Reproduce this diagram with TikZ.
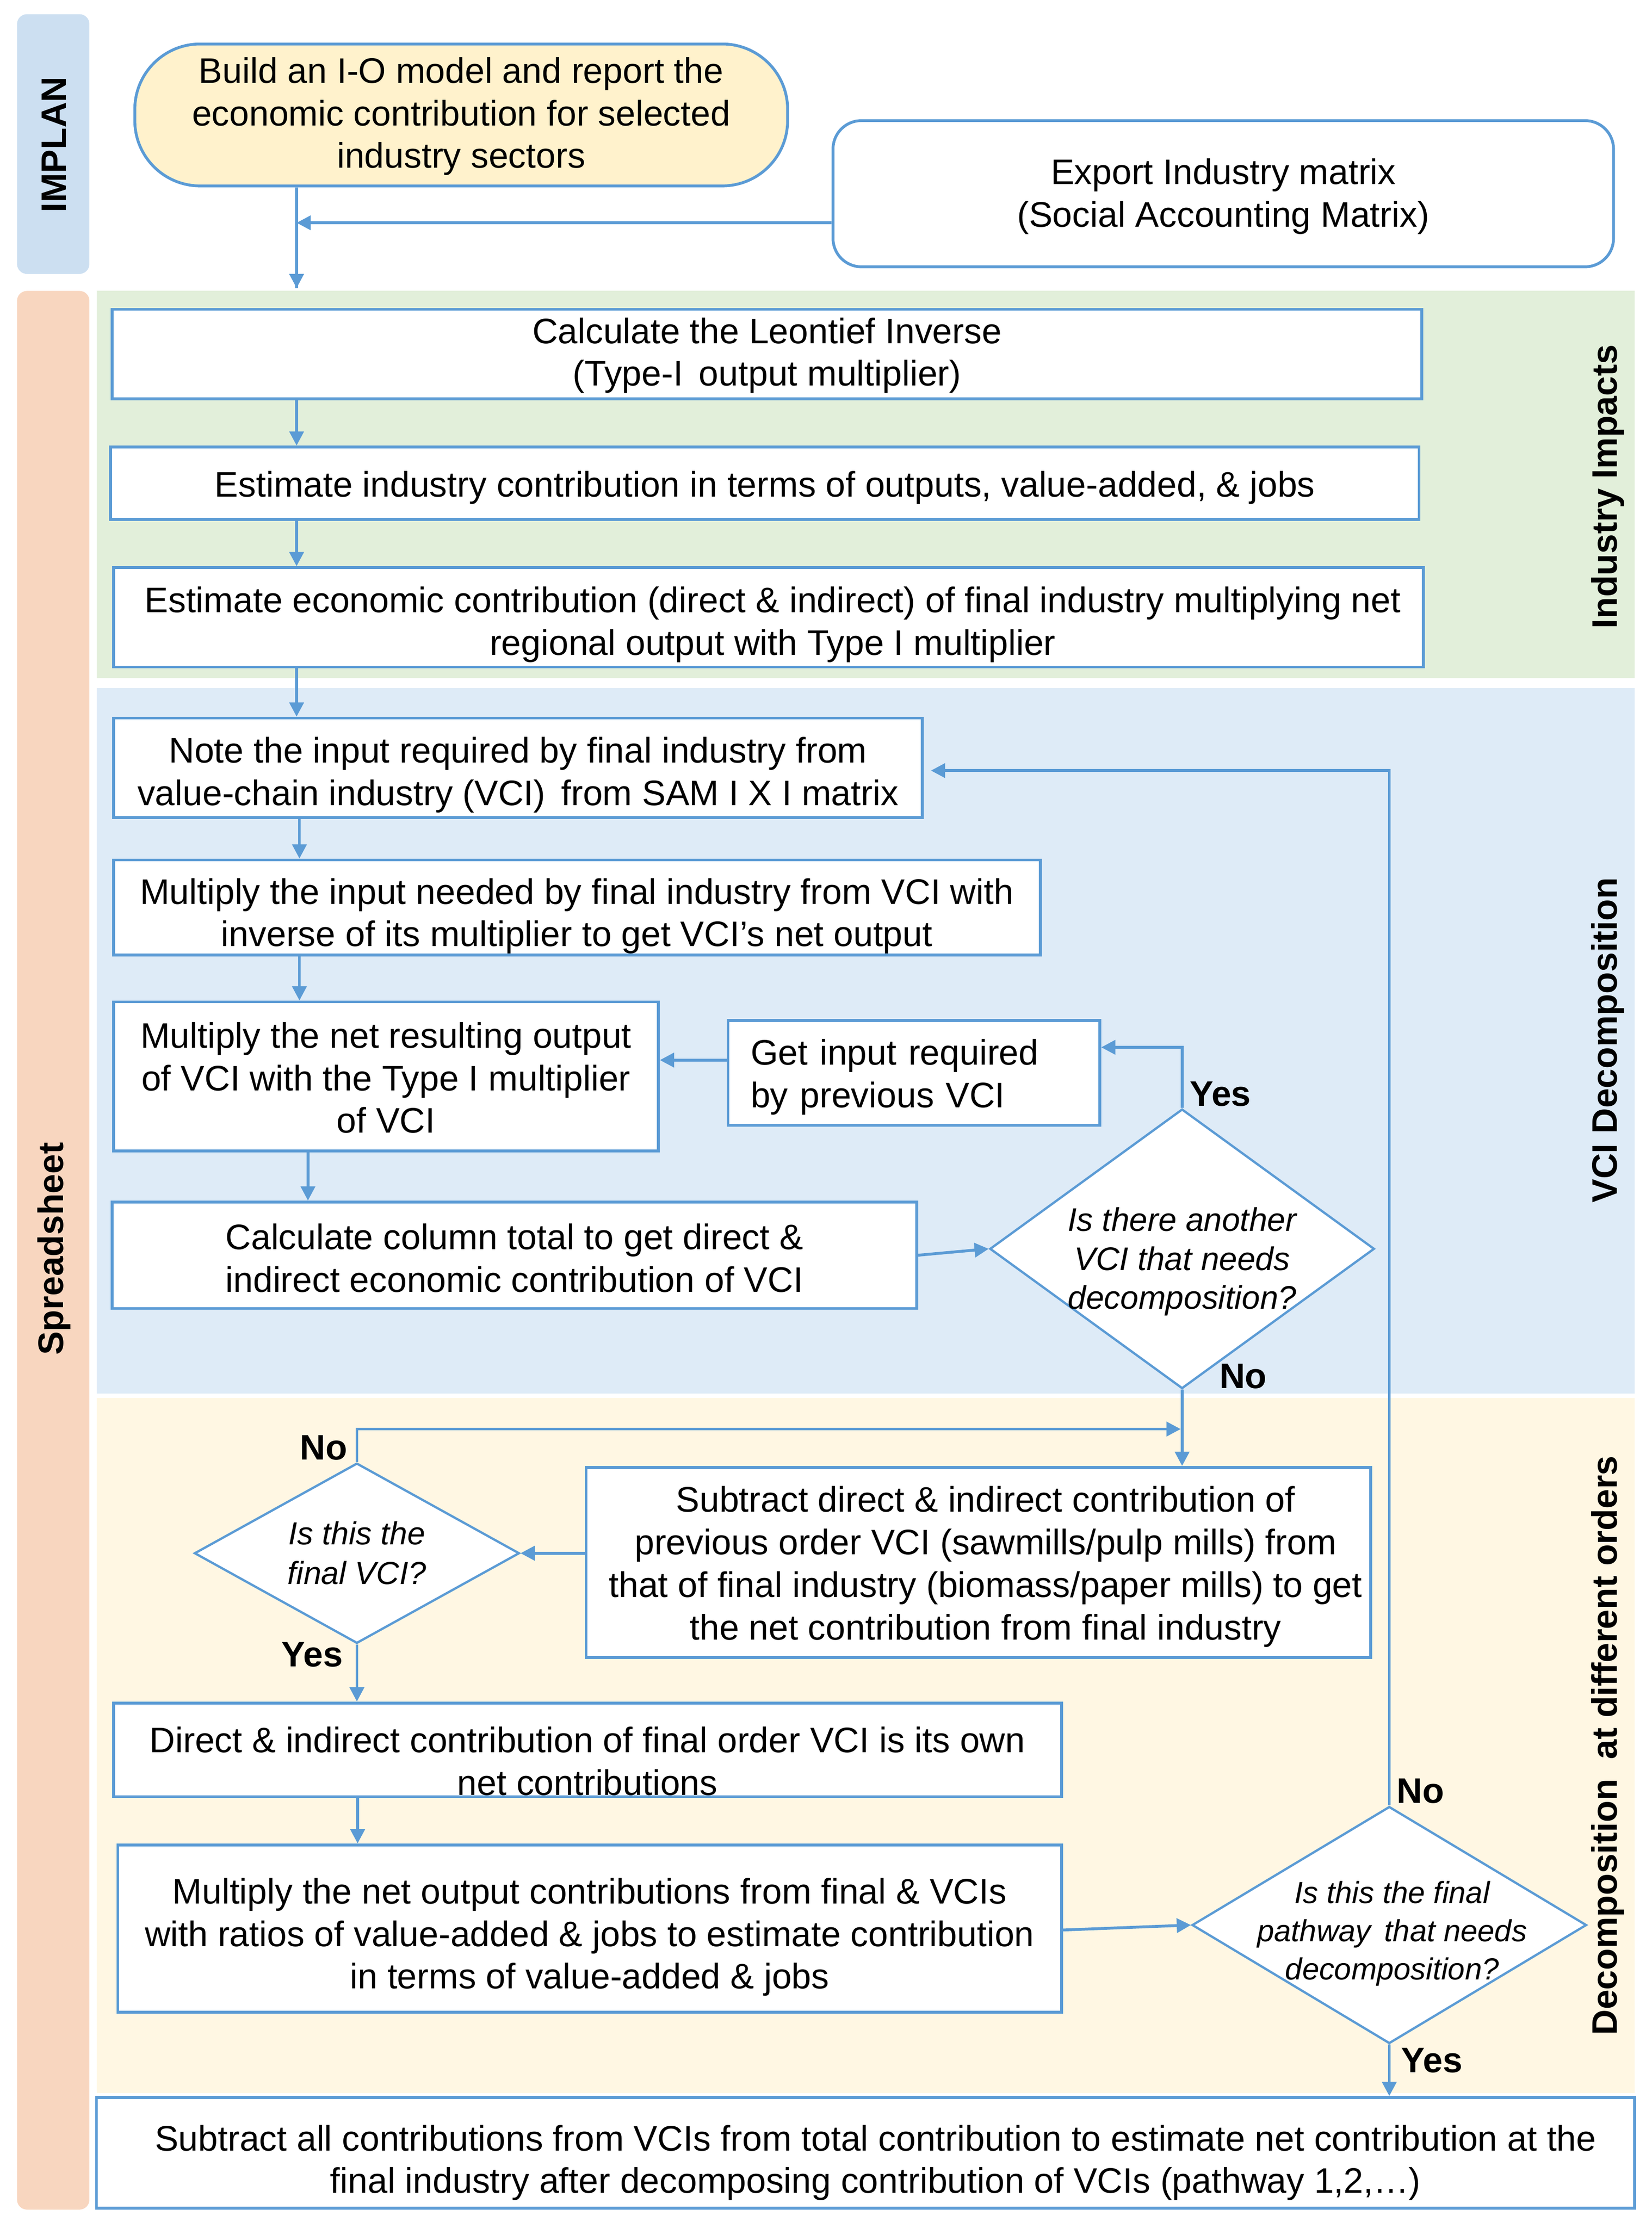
\documentclass[tikz,border=0pt]{standalone}
\usepackage{fontspec}
\setmainfont{Liberation Sans}
\usetikzlibrary{shapes.geometric,arrows.meta,calc}
\definecolor{lblue}{HTML}{5B9BD5}
\definecolor{implanbg}{HTML}{CCDFF1}
\definecolor{peach}{HTML}{F8D6BF}
\definecolor{greenbg}{HTML}{E2EFDA}
\definecolor{bluebg}{HTML}{DEEBF7}
\definecolor{beigebg}{HTML}{FFF7E3}
\definecolor{startbg}{HTML}{FFF2CC}
\begin{document}
\begin{tikzpicture}[x=1pt,y=-1pt,
  txt/.style={font=\fontsize{25}{30}\selectfont},
  boxn/.style={draw=lblue,line width=2pt,fill=white,inner sep=0pt},
  lab/.style={txt,align=center,inner sep=0pt},
  dia/.style={diamond,draw=lblue,line width=1.6pt,fill=white,inner sep=0pt},
  diatxt/.style={align=center,inner sep=0pt},
  yn/.style={font=\fontsize{25}{28}\selectfont\bfseries,inner sep=0pt},
  band/.style={font=\fontsize{25}{28}\selectfont\bfseries,rotate=90,inner sep=0pt},
  arr/.style={draw=lblue,line width=2pt,-{Triangle[length=10pt,width=10pt]}},
  ln/.style={draw=lblue,line width=2pt}]
\useasboundingbox (0,0) rectangle (1164,1570);
% bands
\fill[implanbg,rounded corners=7pt] (12,10) rectangle (63,193);
\fill[peach,rounded corners=7pt] (12,205) rectangle (63,1557);
\fill[greenbg] (68,205) rectangle (1152,478);
\fill[bluebg] (68,485) rectangle (1152,982);
\fill[beigebg] (68,985) rectangle (1152,1475);
\node[band] (limplan) at (38,102) {IMPLAN};
\node[band] (lspread) at (38,880) {Spreadsheet};
\node[band] (lind) at (1133,343) {Industry Impacts};
\node[band] (lvci) at (1133,733) {VCI Decomposition};
\node[band] (ldec) at (1133,1230) {Decomposition \ at different orders};
% nodes
\node[boxn,fill=startbg,rounded corners=46pt,minimum width=460pt,minimum height=100pt,
  label={[lab,yshift=-1pt]center:{Build an I-O model and report the\\economic contribution for selected\\industry sectors}}] (start) at (325,81) {};
\node[boxn,rounded corners=20pt,minimum width=550pt,minimum height=103pt,
  label={[lab,yshift=-2pt]center:{Export Industry matrix\\(Social Accounting Matrix)}}] (export) at (862,136.5) {};
\node[boxn,minimum width=923pt,minimum height=63pt,
  label={[lab,yshift=-1pt]center:{Calculate the Leontief Inverse\\(Type-I\, output multiplier)}}] (leon) at (540.5,249.5) {};
\node[boxn,minimum width=922pt,minimum height=51pt,
  label={[lab,yshift=-3pt]center:{Estimate industry contribution in terms of outputs, value-added, \& jobs}}] (estind) at (539,340.5) {};
\node[boxn,minimum width=923pt,minimum height=70pt,
  label={[lab,yshift=-5pt,xshift=3pt]center:{Estimate economic contribution (direct \& indirect) of final industry multiplying net\\regional output with Type I multiplier}}] (esteco) at (541.5,435) {};
\node[boxn,minimum width=570pt,minimum height=70pt,
  label={[lab,yshift=-5pt]center:{Note the input required by final industry from\\value-chain industry (VCI)\, from SAM I X I matrix}}] (note) at (365,541) {};
\node[boxn,minimum width=653pt,minimum height=67pt,
  label={[lab,yshift=-6pt]center:{Multiply the input needed by final industry from VCI with\\inverse of its multiplier to get VCI’s net output}}] (multin) at (406.5,639.5) {};
\node[boxn,minimum width=384pt,minimum height=105pt,
  label={[lab,yshift=-1pt]center:{Multiply the net resulting output\\of VCI with the Type I multiplier\\of VCI}}] (multnet) at (272,758.5) {};
\node[boxn,minimum width=567pt,minimum height=75pt,
  label={[lab,yshift=-2pt]center:{Calculate column total to get direct \&\\indirect economic contribution of VCI}}] (calccol) at (362.5,884.5) {};
\node[boxn,minimum width=262pt,minimum height=74pt,
  label={[lab,align=left,text width=230pt,yshift=-3pt]center:{Get input required\\by previous VCI}}] (getin) at (644,756) {};
\node[dia,minimum width=271pt,minimum height=197pt] (d1) at (833,880) {};
\node[diatxt,font=\fontsize{23}{27.5}\selectfont\itshape] (d1t) at ([yshift=-9pt]d1.center) {Is there another\\VCI that needs\\decomposition?};
\node[boxn,minimum width=553pt,minimum height=134pt,
  label={[lab,yshift=-3pt,xshift=5pt]center:{Subtract direct \& indirect contribution of\\previous order VCI (sawmills/pulp mills) from\\that of final industry (biomass/paper mills) to get\\the net contribution from final industry}}] (sub) at (689.5,1101) {};
\node[dia,minimum width=229pt,minimum height=127pt] (d2) at (251.5,1094.5) {};
\node[diatxt,font=\fontsize{22.5}{28}\selectfont\itshape] (d2t) at (d2.center) {Is this the\\final VCI?};
\node[boxn,minimum width=668pt,minimum height=66pt,
  label={[lab,yshift=-8pt]center:{Direct \& indirect contribution of final order VCI is its own\\net contributions}}] (direct) at (414,1233) {};
\node[boxn,minimum width=665pt,minimum height=118pt,
  label={[lab,yshift=-6pt]center:{Multiply the net output contributions from final \& VCIs\\with ratios of value-added \& jobs to estimate contribution\\in terms of value-added \& jobs}}] (multout) at (415.5,1359) {};
\node[dia,minimum width=278pt,minimum height=167pt] (d3) at (979,1356.5) {};
\node[diatxt,font=\fontsize{21.5}{27}\selectfont\itshape] (d3t) at ([xshift=2pt,yshift=-6pt]d3.center) {Is this the final\\pathway\, that needs\\decomposition?};
\node[boxn,minimum width=1084pt,minimum height=78pt,
  label={[lab,yshift=-7pt,xshift=7pt]center:{Subtract all contributions from VCIs from total contribution to estimate net contribution at the\\final industry after decomposing contribution of VCIs (pathway 1,2,…)}}] (bottom) at (610,1517) {};
% labels
\node[yn] (y1) at (860,771) {Yes};
\node[yn] (n1) at (876,970) {No};
\node[yn] (n2) at (228,1020) {No};
\node[yn] (y2) at (220,1166) {Yes};
\node[yn] (n3) at (1001,1262) {No};
\node[yn] (y3) at (1009,1452) {Yes};
% coordinates
\coordinate (xa) at (209,0);
\coordinate (xb) at (211,0);
\coordinate (xc) at (217,0);
\coordinate (xd) at (252,0);
\coordinate (c1) at (209,203);
\coordinate (j1) at (209,157);
\coordinate (j2) at (832,1007);
% connectors
\draw[ln] (start.south -| xa) -- (c1);
\draw[arr] ($(c1)+(0,-1)$) -- (c1);
\draw[arr] ([yshift=-20.5pt]export.west) -- (j1);
\draw[arr] (leon.south -| xa) -- (estind.north -| xa);
\draw[arr] (estind.south -| xa) -- (esteco.north -| xa);
\draw[arr] (esteco.south -| xa) -- (note.north -| xa);
\draw[arr] (note.south -| xb) -- (multin.north -| xb);
\draw[arr] (multin.south -| xb) -- (multnet.north -| xb);
\draw[arr] (multnet.south -| xc) -- (calccol.north -| xc);
\draw[arr] (calccol.east) -- (d1.west);
\draw[arr] (d1.north) |- ([yshift=18pt]getin.east);
\draw[arr] ([yshift=9pt]getin.west) -- ([yshift=9pt]getin.west -| multnet.east);
\draw[arr] (d1.south) -- (d1.south |- sub.north);
\draw[arr] (sub.west |- d2.east) -- (d2.east);
\draw[arr] (d2.north) |- (j2);
\draw[arr] (d2.south) -- (direct.north -| d2.south);
\draw[arr] (direct.south -| xd) -- (multout.north -| xd);
\draw[arr] ([yshift=-1pt]multout.east) -- (d3.west);
\draw[arr] (d3.north) |- ([yshift=-2pt,xshift=5pt]note.east);
\draw[arr] (d3.south) -- (d3.south |- bottom.north);
\end{tikzpicture}
\end{document}
